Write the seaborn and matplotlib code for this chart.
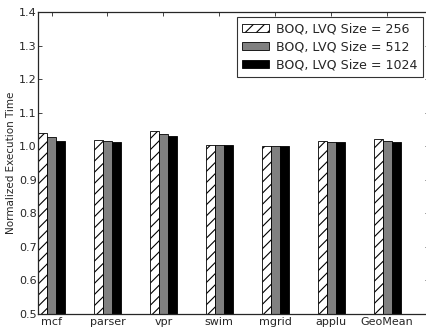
import pandas as pd
import matplotlib
matplotlib.use("Agg")
import matplotlib.pyplot as plt
import seaborn as sns
from matplotlib.patches import Patch

# values
benchmarks = ["mcf", "parser", "vpr", "swim", "mgrid", "applu", "GeoMean"]
lvq_256 = [1.040, 1.020, 1.045, 1.003, 1.001, 1.016, 1.021]
lvq_512 = [1.027, 1.015, 1.037, 1.003, 1.001, 1.014, 1.017]
lvq_1024 = [1.015, 1.014, 1.031, 1.004, 1.001, 1.013, 1.013]
series = ["BOQ, LVQ Size = 256", "BOQ, LVQ Size = 512", "BOQ, LVQ Size = 1024"]

df = pd.DataFrame({
    "bench": benchmarks * 3,
    "val": lvq_256 + lvq_512 + lvq_1024,
    "cfg": [series[0]] * 7 + [series[1]] * 7 + [series[2]] * 7,
})

sns.set_style("ticks")
plt.rcParams["font.family"] = ["DejaVu Sans"]
plt.rcParams["xtick.direction"] = "in"
plt.rcParams["ytick.direction"] = "in"
plt.rcParams["hatch.linewidth"] = 0.8

fig = plt.figure(figsize=(4.27, 3.27), dpi=100)
ax = fig.add_axes([38 / 427, 13 / 327, 391 / 427, 302 / 327])

colors = ["white", "#808080", "black"]
hatches = ["///", "", ""]
sns.barplot(data=df, x="bench", y="val", hue="cfg", palette=colors,
            width=0.484, edgecolor="black", linewidth=0.6, ax=ax, legend=False)

for cont, h in zip(ax.containers, hatches):
    for bar in cont:
        bar.set_hatch(h)

handles = [Patch(facecolor=c, edgecolor="black", hatch=h, linewidth=0.6)
           for c, h in zip(colors, hatches)]
leg = ax.legend(handles, series, loc="upper right", fontsize=9.1,
                bbox_to_anchor=(423 / 427, 1 - 17 / 327),
                bbox_transform=fig.transFigure,
                frameon=True, fancybox=False, borderaxespad=0.0,
                borderpad=0.4, handlelength=2.1, handleheight=0.6,
                handletextpad=0.6, labelspacing=0.42)
leg.get_frame().set_edgecolor("black")
leg.get_frame().set_linewidth(0.8)

ax.set_ylim(0.5, 1.4)
ax.set_xlim(-0.242, 6.75)
ax.set_yticks([0.5, 0.6, 0.7, 0.8, 0.9, 1.0, 1.1, 1.2, 1.3, 1.4])
ax.set_xlabel("")
ax.set_ylabel("Normalized Execution Time", fontsize=7.5, labelpad=2)
ax.tick_params(axis="both", labelsize=8, length=3, width=0.6,
               top=True, right=True, pad=2)
ax.tick_params(axis="y", pad=1)
for s in ax.spines.values():
    s.set_visible(True)
    s.set_linewidth(0.9)

fig.savefig("out.png", dpi=100)
